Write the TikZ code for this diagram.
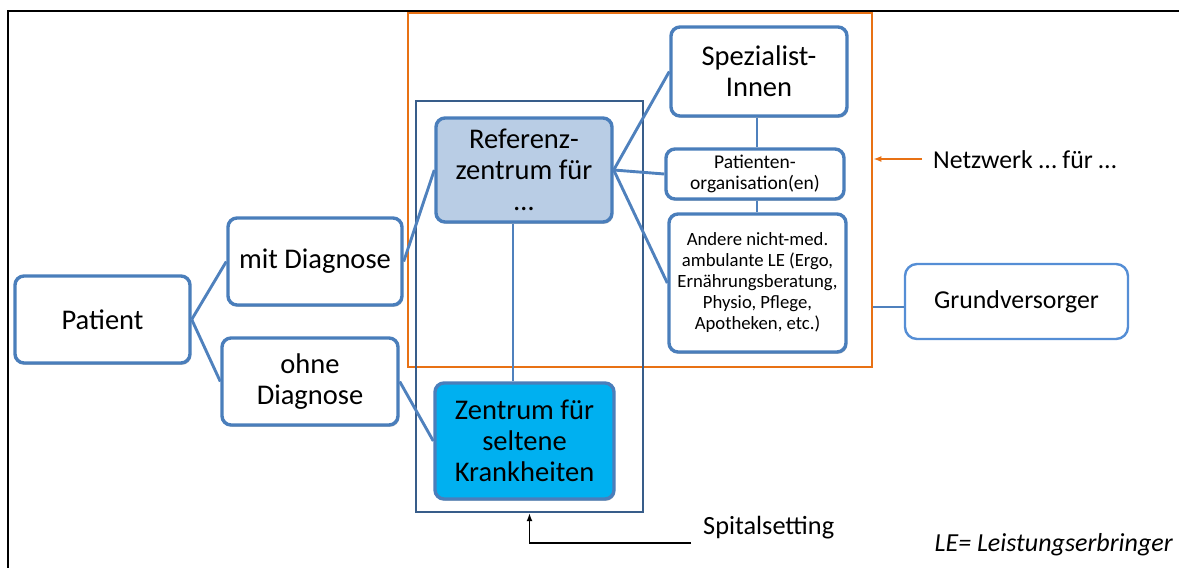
\documentclass[tikz,border=0pt]{standalone}
\usepackage{fontspec}
\setmainfont{Carlito}
\usetikzlibrary{arrows.meta,shadows,calc}
\definecolor{boxblue}{RGB}{74,126,187}
\definecolor{lineblue}{RGB}{79,129,189}
\definecolor{darkblue}{RGB}{56,93,138}
\definecolor{lightblue}{RGB}{185,205,229}
\definecolor{cyanfill}{RGB}{0,176,240}
\definecolor{orangeline}{RGB}{232,113,20}
\definecolor{grundblue}{RGB}{85,142,213}
\tikzset{
  box/.style={draw=boxblue, line width=3.4pt, rounded corners=9pt, fill=white, align=center,
    inner sep=2pt, text=black,
    drop shadow={shadow xshift=1.2pt, shadow yshift=-1.8pt, fill=black, opacity=0.22}},
  big/.style={font=\fontsize{28.5}{31}\selectfont},
  small/.style={font=\fontsize{18.7}{21}\selectfont},
  conn/.style={draw=lineblue, line width=2.9pt},
  frame/.style={draw=black, line width=2.4pt},
}
\begin{document}
\begin{tikzpicture}[x=1pt,y=-1pt]
\useasboundingbox (0,0) rectangle (1179,568);
% outer black frame (cut off at right and bottom)
\draw[frame] (8,568) -- (8,11) -- (1179,11);
% orange network frame
\node[draw=orangeline, line width=2.8pt, minimum width=464pt, minimum height=354pt, inner sep=0pt] (netzw) at (640,190) {};
% hospital frame
\node[draw=darkblue, line width=2.4pt, minimum width=227pt, minimum height=411pt, inner sep=0pt] (spital) at (529.5,306.5) {};
% boxes
\node[box, big, minimum width=175pt, minimum height=87pt] (pat) at (102.5,319.5) {Patient};
\node[box, big, minimum width=174pt, minimum height=87pt] (mit) at (315,261.5) {mit Diagnose};
\node[box, big, minimum width=176pt, minimum height=87pt] (ohne) at (310,381.5) {ohne\\Diagnose};
\node[box, big, fill=lightblue, minimum width=176pt, minimum height=104pt] (ref) at (524,170) {Referenz-\\zentrum für\\…};
\node[box, big, fill=cyanfill, minimum width=179pt, minimum height=116pt] (zen) at (524.5,441) {Zentrum für\\seltene\\Krankheiten};
\node[box, big, minimum width=176pt, minimum height=89pt] (spez) at (759,71.5) {Spezialist-\\Innen};
\node[box, font=\fontsize{19.5}{21}\selectfont, minimum width=178pt, minimum height=50pt] (porg) at (755,174) {Patienten-\\organisation(en)};
\node[box, small, minimum width=177pt, minimum height=138pt] (andere) at (757.5,283) {Andere nicht-med.\\ambulante LE (Ergo,\\Ernährungsberatung,\\Physio, Pflege,\\Apotheken, etc.)};
\node[draw=grundblue, line width=2.4pt, rounded corners=12pt, fill=white, minimum width=223pt, minimum height=75pt,
  font=\fontsize{25.8}{30}\selectfont] (grund) at (1016.5,301.5) {Grundversorger};
% connectors
\draw[conn] (pat.east) -- (mit.west);
\draw[conn] (pat.east) -- (ohne.west);
\draw[conn] (mit.east) -- (ref.west);
\draw[conn] (ohne.east) -- (zen.west);
\draw[conn] ([xshift=-11pt]ref.south) -- ([xshift=-11pt]ref.south |- zen.north);
\draw[conn] (ref.east) -- (spez.west);
\draw[conn] (ref.east) -- (porg.west);
\draw[conn] (ref.east) -- (andere.west);
\draw[conn] ([xshift=2pt]porg.north |- spez.south) -- ([xshift=2pt]porg.north);
\draw[conn] ([xshift=2pt]porg.south) -- ([xshift=2pt]porg.south |- andere.north);
\draw[draw=lineblue, line width=2.8pt] ([yshift=-5.5pt]grund.west) -- ([yshift=-5.5pt]grund.west -| netzw.east);
% network label
\node[anchor=west, inner sep=0pt, font=\fontsize{25.8}{30}\selectfont] (netztxt) at (933,160) {Netzwerk … für …};
\coordinate (netzstart) at (922,159);
\draw[orangeline, line width=1.4pt, -{Latex[length=8pt,width=6pt]}] (netzstart) -- (netzstart -| netzw.east);
% hospital label
\node[anchor=west, inner sep=0pt, font=\fontsize{26.3}{30}\selectfont] (sptxt) at (703,528) {Spitalsetting};
\coordinate (spstart) at (691,543);
\draw[black, line width=1.5pt, -{Latex[length=8pt,width=6pt]}] (spstart) -| (spital.south);
% legend
\node[anchor=east, inner sep=0pt, font=\fontsize{26}{28}\selectfont\itshape] (le) at (1173,545) {LE= Leistungserbringer};
\end{tikzpicture}
\end{document}
